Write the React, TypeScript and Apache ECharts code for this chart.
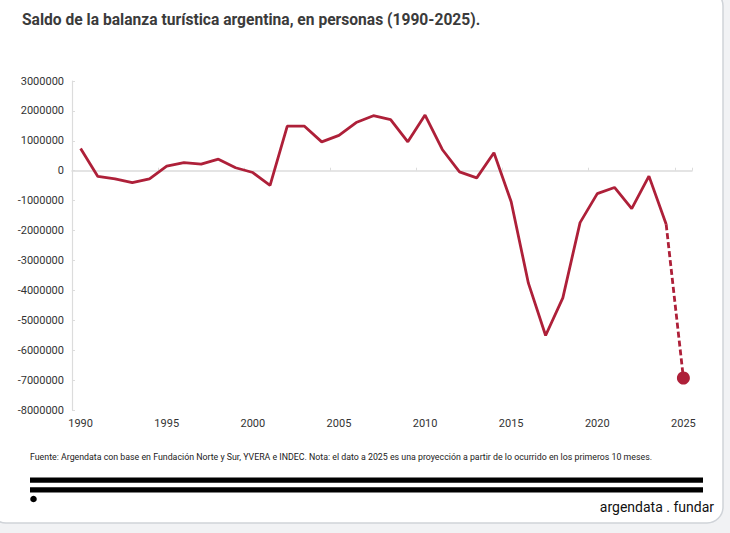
import React, { useEffect, useRef } from "react";
import * as echarts from "echarts";

const years: string[] = [];
for (let y = 1990; y <= 2025; y++) years.push(String(y));

// Saldo (personas), 1990-2024 observed
const saldo: number[] = [
  740000, -190000, -270000, -400000, -270000, 150000, 270000, 220000, 385000, 100000,
  -60000, -490000, 1490000, 1490000, 965000, 1180000, 1610000, 1840000, 1710000, 965000,
  1860000, 710000, -40000, -240000, 600000, -1040000, -3760000, -5510000, -4250000, -1735000,
  -765000, -560000, -1270000, -180000, -1790000,
];
// 2025 projection
const proyeccion2025 = -6930000;

const yTicks = { min: -8000000, max: 3000000, interval: 1000000 };

const title = "Saldo de la balanza turística argentina, en personas (1990-2025).";
const source =
  "Fuente: Argendata con base en Fundación Norte y Sur, YVERA e INDEC. Nota: el dato a 2025 es una proyección a partir de lo ocurrido en los primeros 10 meses.";
const brand = "argendata . fundar";

const RED = "#AE2039";
const FONT = "Roboto, 'Noto Sans', sans-serif";

export default function App() {
  const ref = useRef<HTMLDivElement>(null);
  useEffect(() => {
    if (!ref.current) return;
    const chart = echarts.init(ref.current, undefined, { renderer: "svg" });
    const solid: (number | null)[] = [...saldo, null];
    const dashed: any[] = years.map(() => null);
    dashed[years.length - 2] = { value: saldo[saldo.length - 1], symbol: "none" };
    dashed[years.length - 1] = { value: proyeccion2025, symbol: "circle", symbolSize: 13 };

    chart.setOption({
      animation: false,
      backgroundColor: "#f1f2f4",
      textStyle: { fontFamily: FONT },
      grid: { left: 72, right: 38, top: 81, bottom: 123 },
      xAxis: [
        {
          type: "category",
          data: years,
          position: "bottom",
          boundaryGap: true,
          axisLine: { show: false, onZero: false },
          axisTick: { show: false },
          axisLabel: { interval: 4, color: "#333", fontSize: 11, margin: 8, fontFamily: FONT },
          splitLine: { show: false },
        },
        {
          type: "category",
          data: years,
          position: "top",
          boundaryGap: true,
          axisLine: { show: true, onZero: true, lineStyle: { color: "#dcdcdc", width: 1.5 } },
          axisTick: { show: true, inside: false, interval: 4, length: 3, lineStyle: { color: "#dcdcdc" } },
          axisLabel: { show: false },
          splitLine: { show: false },
        },
      ],
      yAxis: {
        type: "value",
        min: yTicks.min,
        max: yTicks.max,
        interval: yTicks.interval,
        axisLine: { show: true, onZero: false, lineStyle: { color: "#dcdcdc", width: 1.2 } },
        axisTick: { show: true, inside: true, length: 3, lineStyle: { color: "#dcdcdc" } },
        axisLabel: {
          color: "#333",
          fontSize: 11,
          margin: 8,
          fontFamily: FONT,
          formatter: (v: number) => String(v),
        },
        splitLine: { show: false },
      },
      graphic: [
        {
          type: "rect",
          z: -100,
          silent: true,
          shape: { x: -10, y: -10, width: 733, height: 533, r: 16 },
          style: { fill: "#ffffff", stroke: "#cfd3d8", lineWidth: 1.5 },
        },
        {
          type: "text",
          left: 22,
          top: 12,
          style: { text: title, fontSize: 15.6, fontWeight: "bold", fill: "#3b3b3b", fontFamily: FONT },
        },
        {
          type: "text",
          left: 30,
          top: 452,
          style: { text: source, fontSize: 8.8, fill: "#222", fontFamily: FONT },
        },
        {
          type: "rect",
          shape: { x: 30, y: 477.5, width: 673, height: 5.3 },
          style: { fill: "#000" },
        },
        {
          type: "rect",
          shape: { x: 30, y: 487.3, width: 673, height: 5.3 },
          style: { fill: "#000" },
        },
        {
          type: "circle",
          shape: { cx: 33.5, cy: 499, r: 3.3 },
          style: { fill: "#000" },
        },
        {
          type: "text",
          right: 16,
          top: 500,
          style: { text: brand, fontSize: 14, fill: "#111", fontFamily: FONT },
        },
      ],
      series: [
        {
          type: "line",
          data: solid,
          xAxisIndex: 0,
          showSymbol: false,
          symbol: "none",
          lineStyle: { color: RED, width: 2.8 },
          itemStyle: { color: RED },
          connectNulls: false,
          z: 3,
        },
        {
          type: "line",
          data: dashed,
          xAxisIndex: 0,
          showSymbol: true,
          lineStyle: { color: RED, width: 2.8, type: [6, 3] },
          itemStyle: { color: RED, opacity: 1 },
          z: 3,
        },
      ],
    });
    return () => chart.dispose();
  }, []);
  return (
    <div
      ref={ref}
      style={{ position: "absolute", left: 0, top: 0, width: 730, height: 533 }}
    />
  );
}
